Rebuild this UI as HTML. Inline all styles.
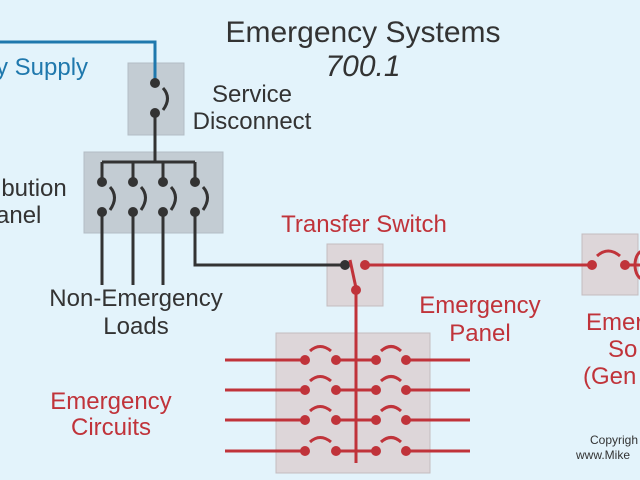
<!DOCTYPE html>
<html><head><style>
html,body{margin:0;padding:0;background:#e3f3fb;}
svg{display:block;}
text{font-family:"Liberation Sans",sans-serif;}
</style></head><body>
<svg width="640" height="480" viewBox="0 0 640 480">
<rect width="640" height="480" fill="#e3f3fb"/>
<text x="363" y="42" font-size="30" fill="#333" text-anchor="middle">Emergency Systems</text>
<text x="363" y="76" font-size="30" fill="#333" text-anchor="middle" font-style="italic">700.1</text>
<text x="-4" y="75" font-size="24" fill="#1f78ad">y Supply</text>
<text x="252" y="102" font-size="24" fill="#333" text-anchor="middle">Service</text>
<text x="252" y="129" font-size="24" fill="#333" text-anchor="middle">Disconnect</text>
<text x="-4" y="196" font-size="24" fill="#333">ibution</text>
<text x="-4" y="223" font-size="24" fill="#333">anel</text>
<text x="136" y="306" font-size="24" fill="#333" text-anchor="middle">Non-Emergency</text>
<text x="136" y="334" font-size="24" fill="#333" text-anchor="middle">Loads</text>
<text x="364" y="232" font-size="24" fill="#c0333a" text-anchor="middle">Transfer Switch</text>
<text x="480" y="313" font-size="24" fill="#c0333a" text-anchor="middle">Emergency</text>
<text x="480" y="341" font-size="24" fill="#c0333a" text-anchor="middle">Panel</text>
<text x="111" y="409" font-size="24" fill="#c0333a" text-anchor="middle">Emergency</text>
<text x="111" y="435" font-size="24" fill="#c0333a" text-anchor="middle">Circuits</text>
<text x="586" y="330" font-size="24" fill="#c0333a">Emer</text>
<text x="608" y="357" font-size="24" fill="#c0333a">So</text>
<text x="583" y="384" font-size="24" fill="#c0333a">(Gen</text>
<text x="590" y="444" font-size="12" fill="#333">Copyrigh</text>
<text x="576" y="459" font-size="12" fill="#333">www.Mike</text>
<rect x="128" y="63" width="56" height="72" fill="#c3ccd3" stroke="#b3bcc4"/>
<rect x="84" y="152" width="139" height="81" fill="#c3ccd3" stroke="#b3bcc4"/>
<rect x="327" y="244" width="56" height="62" fill="#ddd6d9" stroke="#c4bcbf"/>
<rect x="582" y="234" width="56" height="61" fill="#ddd6d9" stroke="#c4bcbf"/>
<rect x="276" y="333" width="154" height="140" fill="#ddd6d9" stroke="#c4bcbf"/>
<polyline points="0,42 155,42 155,83" fill="none" stroke="#1f78ad" stroke-width="3"/>
<g stroke="#333" stroke-width="3" fill="none">
<path d="M163,88 Q172,98 163,110"/>
<line x1="155" y1="113" x2="155" y2="162"/>
<line x1="102" y1="162" x2="195" y2="162"/>
<line x1="102" y1="162" x2="102" y2="182"/><line x1="133" y1="162" x2="133" y2="182"/>
<line x1="163" y1="162" x2="163" y2="182"/><line x1="195" y1="162" x2="195" y2="182"/>
<path d="M110,187 Q119,197 110,210"/><path d="M141,187 Q150,197 141,210"/>
<path d="M171,187 Q180,197 171,210"/><path d="M203,187 Q212,197 203,210"/>
<line x1="102" y1="212" x2="102" y2="285"/><line x1="133" y1="212" x2="133" y2="285"/>
<line x1="163" y1="212" x2="163" y2="285"/>
<polyline points="195,212 195,265 345,265"/>
</g>
<g fill="#333">
<circle cx="155" cy="83" r="5"/><circle cx="155" cy="113" r="5"/>
<circle cx="102" cy="182" r="5"/><circle cx="133" cy="182" r="5"/><circle cx="163" cy="182" r="5"/><circle cx="195" cy="182" r="5"/>
<circle cx="102" cy="212" r="5"/><circle cx="133" cy="212" r="5"/><circle cx="163" cy="212" r="5"/><circle cx="195" cy="212" r="5"/>
<circle cx="345" cy="265" r="5"/>
</g>
<g stroke="#c0333a" stroke-width="3" fill="none">
<line x1="350" y1="260" x2="356" y2="288"/>
<line x1="365" y1="265" x2="592" y2="265"/>
<path d="M597,256 Q608,246 620,256"/>
<line x1="625" y1="265" x2="640" y2="265"/>
<line x1="356" y1="290" x2="356" y2="463"/>
</g>
<ellipse cx="643" cy="265" rx="8" ry="14" fill="none" stroke="#c0333a" stroke-width="3"/>
<g fill="#c0333a">
<circle cx="365" cy="265" r="5"/><circle cx="356" cy="290" r="5"/>
<circle cx="592" cy="265" r="5"/><circle cx="625" cy="265" r="5"/>
</g>
<g stroke="#c0333a" stroke-width="3" fill="none">
<path d="M225,360 H305 M336,360 H376 M406,360 H470 M310,351 Q320,342 331,351 M381,351 Q391,342 401,351"/>
<path d="M225,390 H305 M336,390 H376 M406,390 H470 M310,381 Q320,372 331,381 M381,381 Q391,372 401,381"/>
<path d="M225,420 H305 M336,420 H376 M406,420 H470 M310,411 Q320,402 331,411 M381,411 Q391,402 401,411"/>
<path d="M225,451 H305 M336,451 H376 M406,451 H470 M310,442 Q320,433 331,442 M381,442 Q391,433 401,442"/>
</g>
<g fill="#c0333a">
<circle cx="305" cy="360" r="5"/><circle cx="336" cy="360" r="5"/><circle cx="376" cy="360" r="5"/><circle cx="406" cy="360" r="5"/>
<circle cx="305" cy="390" r="5"/><circle cx="336" cy="390" r="5"/><circle cx="376" cy="390" r="5"/><circle cx="406" cy="390" r="5"/>
<circle cx="305" cy="420" r="5"/><circle cx="336" cy="420" r="5"/><circle cx="376" cy="420" r="5"/><circle cx="406" cy="420" r="5"/>
<circle cx="305" cy="451" r="5"/><circle cx="336" cy="451" r="5"/><circle cx="376" cy="451" r="5"/><circle cx="406" cy="451" r="5"/>
</g>
</svg>
</body></html>
